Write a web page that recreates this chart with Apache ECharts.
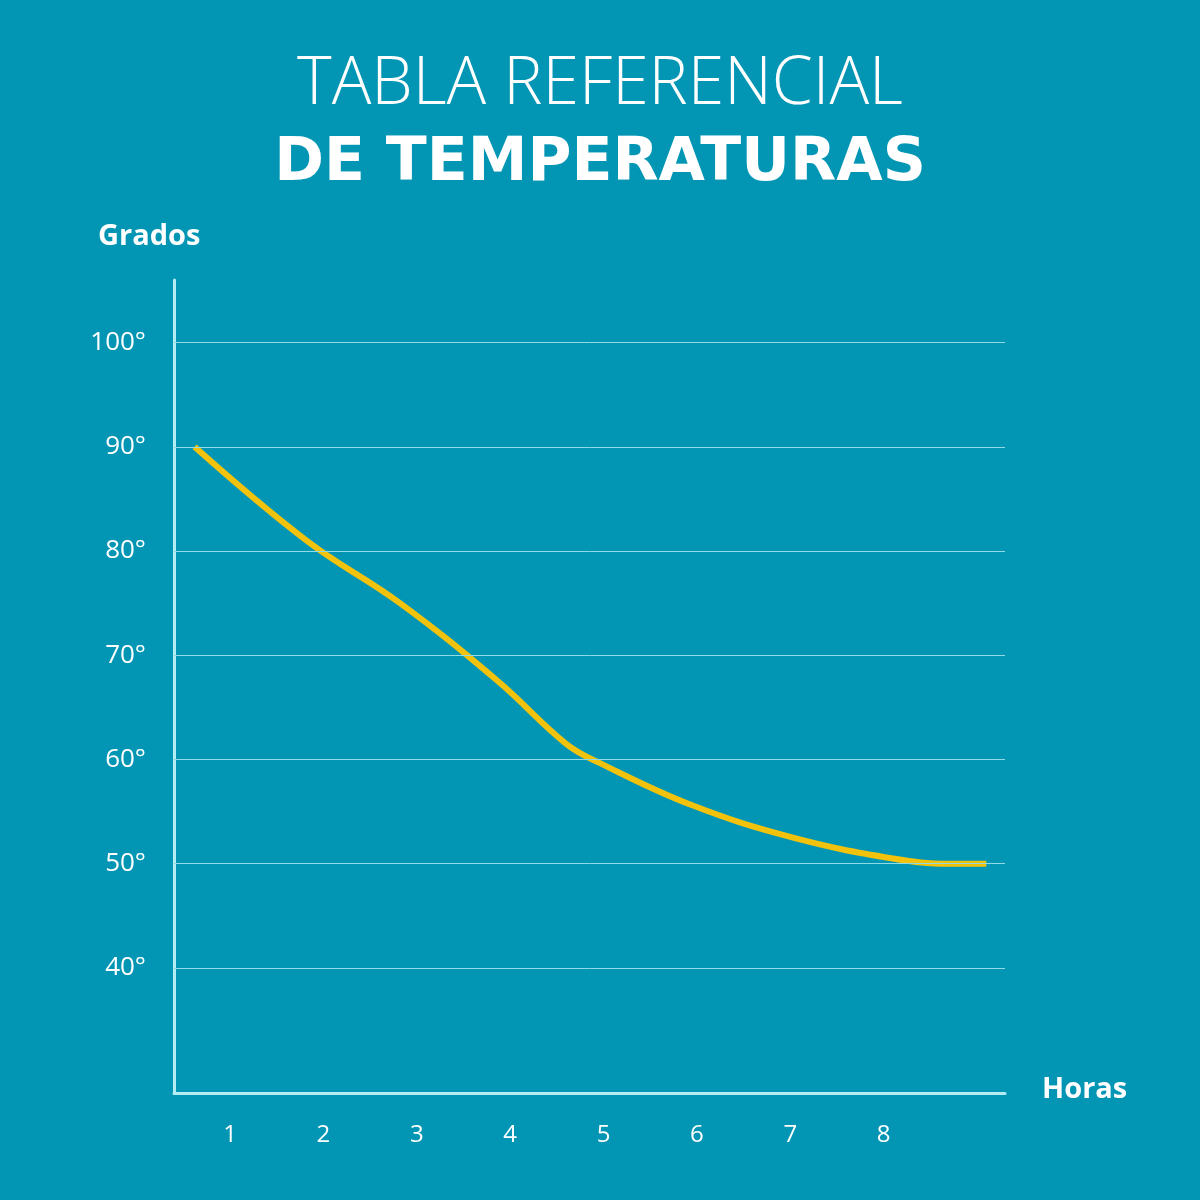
<!DOCTYPE html>
<html>
<head>
<meta charset="utf-8">
<script src="https://cdn.jsdelivr.net/npm/echarts@6/dist/echarts.min.js"></script>
<style>html,body{margin:0;padding:0;background:#0296b4;}#chart{width:1200px;height:1200px;}</style>
</head>
<body>
<div id="chart"></div>
<script>
// horas / grados
var hours = [0.62, 1.82, 2.82, 3.87, 4.6, 4.95, 5.95, 7.03, 8.1, 8.7, 9.1];
var degrees = [90, 81, 75, 67.5, 61.5, 59.7, 55.6, 52.5, 50.5, 50, 50];
var gridValues = [40, 50, 60, 70, 80, 90, 100];

var chart = echarts.init(document.getElementById('chart'));
var data = [];
for (var i = 0; i < hours.length; i++) data.push([hours[i], degrees[i]]);
var option = {
  backgroundColor: '#0296b4',
  animation: false,
  graphic: [
    {type: 'text', left: 'center', top: 52, style: {text: 'TABLA REFERENCIAL', fill: '#fff', font: '300 66px "Open Sans"'}},
    {type: 'text', left: 'center', top: 134, style: {text: 'DE TEMPERATURAS', fill: '#fff', font: 'bold 60px "DejaVu Sans"'}},
    {type: 'text', left: 98, top: 222, style: {text: 'Grados', fill: '#fff', font: 'bold 29px "Open Sans"'}},
    {type: 'text', left: 1042, top: 1075, style: {text: 'Horas', fill: '#fff', font: 'bold 29px "Open Sans"'}}
  ],
  grid: {left: 174, right: 195, top: 280, bottom: 107},
  xAxis: {
    type: 'value', min: 0.4, max: 9.3, interval: 0.2,
    axisLine: {lineStyle: {color: '#b3ecf2', width: 3}},
    axisTick: {show: false}, splitLine: {show: false},
    axisLabel: {color: '#fff', fontSize: 24, margin: 30, fontFamily: 'Open Sans',
      formatter: function (v) { var r = Math.round(v); return (Math.abs(v - r) < 1e-6 && r >= 1 && r <= 8) ? String(r) : ''; }}
  },
  yAxis: {
    type: 'value', min: 28, max: 106, interval: 2,
    axisLine: {show: true, lineStyle: {color: '#b3ecf2', width: 3}},
    axisTick: {show: false}, splitLine: {show: false},
    axisLabel: {color: '#fff', fontSize: 26, margin: 28, fontFamily: 'Open Sans',
      formatter: function (v) { return (v % 10 === 0 && v >= 40 && v <= 100) ? v + '°' : ''; }}
  },
  series: [{
    type: 'line', data: data, smooth: 0.4, symbol: 'none',
    lineStyle: {color: '#f2c20c', width: 6},
    markLine: {
      silent: true, symbol: 'none', label: {show: false},
      lineStyle: {color: '#8fdce6', width: 1, type: 'solid'},
      data: gridValues.map(function (v) { return {yAxis: v}; })
    }
  }]
};
chart.setOption(option);
</script>
</body>
</html>
